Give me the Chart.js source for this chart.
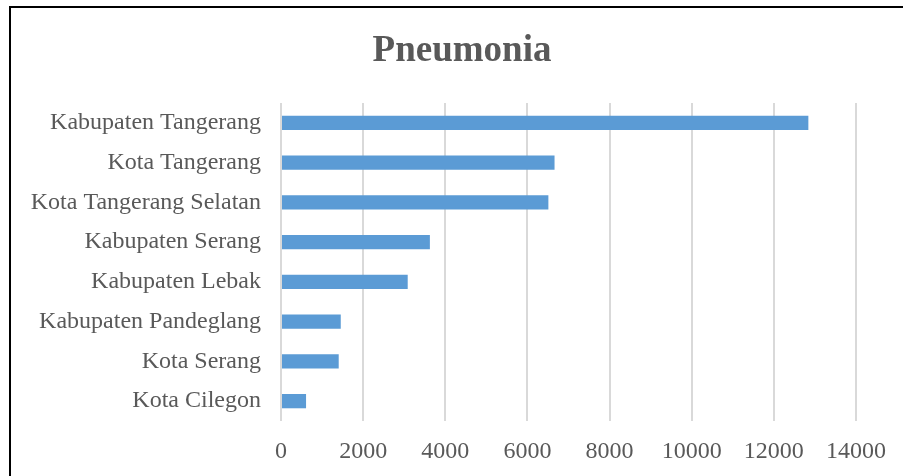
<!DOCTYPE html>
<html>
<head>
<meta charset="utf-8">
<script src="https://cdn.jsdelivr.net/npm/chart.js@4.4.0/dist/chart.umd.min.js"></script>
<style>
  html, body { margin: 0; padding: 0; background: #fff; overflow: hidden; }
  #bingkai {
    position: absolute; left: 9px; top: 6px; width: 910px; height: 480px;
    border-left: 2px solid #000; border-top: 2px solid #000;
  }
  #wadah { position: absolute; left: 0; top: 0; width: 903px; height: 476px; }
  #judul {
    position: absolute; left: 262px; width: 400px; top: 27px;
    text-align: center; color: #595959;
    font: bold 37px 'Liberation Serif', 'Times New Roman', serif;
    line-height: 44px;
  }
</style>
</head>
<body>
<div id="bingkai"></div>
<div id="wadah"><canvas id="grafik"></canvas></div>
<div id="judul"></div>
<script>
// ================= DATA =================
const wilayah = [
  "Kabupaten Tangerang",
  "Kota Tangerang",
  "Kota Tangerang Selatan",
  "Kabupaten Serang",
  "Kabupaten Lebak",
  "Kabupaten Pandeglang",
  "Kota Serang",
  "Kota Cilegon"
];
const jumlahKasus = [12840, 6660, 6510, 3625, 3085, 1455, 1405, 610];
const judul = "Pneumonia";
const sumbuMax = 14000;
const langkahTick = 2000;

const abu = "#595959";
const hurufSerif = "'Liberation Serif', 'Times New Roman', serif";

document.getElementById("judul").innerText = judul;

// ================= GRAFIK =================
new Chart(document.getElementById("grafik"), {
  type: "bar",
  data: {
    labels: wilayah,
    datasets: [{
      label: judul,
      data: jumlahKasus,
      backgroundColor: "#5b9bd5",
      barPercentage: 0.36,
      categoryPercentage: 1
    }]
  },
  options: {
    indexAxis: "y",
    responsive: true,
    maintainAspectRatio: false,
    animation: false,
    layout: { padding: { left: 0, right: 47, top: 103, bottom: 0 } },
    plugins: {
      legend: { display: false },
      tooltip: { enabled: false },
      title: { display: false }
    },
    scales: {
      x: {
        min: 0,
        max: sumbuMax,
        ticks: {
          stepSize: langkahTick,
          color: abu,
          padding: 16,
          maxRotation: 0,
          font: { family: hurufSerif, size: 24 },
          callback: v => String(v)
        },
        grid: { color: "#d9d9d9", lineWidth: 2, drawTicks: false },
        border: { display: false },
        afterFit: s => { s.height = 55; }
      },
      y: {
        ticks: {
          color: abu,
          padding: 12,
          font: { family: hurufSerif, size: 24 }
        },
        grid: { display: false },
        border: { display: false },
        afterFit: s => { s.width = 281; }
      }
    }
  }
});
</script>
</body>
</html>
